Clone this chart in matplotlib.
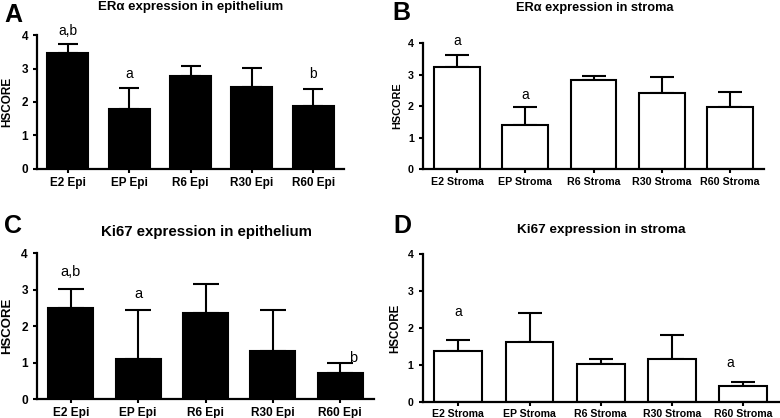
import matplotlib
matplotlib.use("Agg")
import matplotlib.pyplot as plt

plt.rcParams['font.family'] = ['Liberation Sans', 'DejaVu Sans']

W, H = 780, 418

# ---------------- data ----------------
epi_labels = ["E2 Epi", "EP Epi", "R6 Epi", "R30 Epi", "R60 Epi"]
str_labels = ["E2 Stroma", "EP Stroma", "R6 Stroma", "R30 Stroma", "R60 Stroma"]

era_epi = [3.45, 1.78, 2.77, 2.46, 1.89]
era_epi_err = [0.29, 0.65, 0.29, 0.56, 0.50]

era_str = [3.24, 1.39, 2.83, 2.43, 1.98]
era_str_err = [0.39, 0.57, 0.12, 0.50, 0.47]

ki_epi = [2.50, 1.10, 2.37, 1.33, 0.71]
ki_epi_err = [0.52, 1.35, 0.79, 1.11, 0.27]

ki_str = [1.38, 1.63, 1.02, 1.15, 0.42]
ki_str_err = [0.30, 0.78, 0.15, 0.65, 0.12]

yticks = [0, 1, 2, 3, 4]

# significance letters: (bar index, text, y value, x offset)
sig_a = [(0, "a,b", 4.12, 0.0), (1, "a", 2.84, 0.0), (4, "b", 2.83, 0.0)]
sig_b = [(0, "a", 4.07, 0.0), (1, "a", 2.36, 0.0)]
sig_c = [(0, "a,b", 3.50, 0.0), (1, "a", 2.87, 0.0), (4, "b", 1.12, 0.19)]
sig_d = [(0, "a", 2.44, 0.0), (4, "a", 1.04, -0.18)]

fig = plt.figure(figsize=(W / 100, H / 100), dpi=100)


def px_axes(l, r, t, b):
    return fig.add_axes([l / W, 1 - b / H, (r - l) / W, (b - t) / H])


def panel(box, labels, vals, errs, fill, sigs, title, title_xy, title_fs,
          letter, letter_xy, ylab_xy, ylab_fs, tick_fs, capsize, ann_fs):
    ax = px_axes(*box)
    x = list(range(len(labels)))
    ax.bar(x, vals, width=0.67, color=fill, edgecolor="black", linewidth=1.5,
           zorder=2)
    ax.errorbar(x, vals, yerr=[[0] * len(errs), errs], fmt="none",
                ecolor="black", elinewidth=1.5, capsize=capsize,
                capthick=1.5, zorder=1)
    ax.set_xlim(-0.5, 4.5)
    ax.set_ylim(0, 4)
    ax.set_yticks(yticks)
    ax.set_xticks(x)
    ax.set_xticklabels(labels, fontweight="bold", fontsize=tick_fs)
    ax.set_yticklabels([str(v) for v in yticks], fontweight="bold",
                       fontsize=tick_fs)
    for s in ["top", "right"]:
        ax.spines[s].set_visible(False)
    for s in ["left", "bottom"]:
        ax.spines[s].set_linewidth(1.6)
        ax.spines[s].set_clip_on(False)
    ax.tick_params(axis="both", direction="out", length=3, width=1.5,
                   pad=2.5)
    ax.tick_params(axis="y", pad=3.5)
    for i, t, yv, dx in sigs:
        ax.text(i + dx, yv, t, ha="center", va="center", fontsize=ann_fs,
                clip_on=False)
    fig.text(title_xy[0] / W, 1 - title_xy[1] / H, title, ha="center",
             va="baseline", fontsize=title_fs, fontweight="bold")
    fig.text(letter_xy[0] / W, 1 - letter_xy[1] / H, letter, ha="center",
             va="baseline", fontsize=18, fontweight="bold")
    fig.text(ylab_xy[0] / W, 1 - ylab_xy[1] / H, "HSCORE", ha="center",
             va="center", rotation=90, fontsize=ylab_fs, fontweight="bold")
    return ax


panel((37, 344, 35, 169), epi_labels, era_epi, era_epi_err, "black", sig_a,
      "ERα expression in epithelium", (191, 10), 9.5, "A", (13, 22),
      (7, 102), 8.5, 8.5, 7.5, 10)
panel((423, 764, 43.3, 169), str_labels, era_str, era_str_err, "white", sig_b,
      "ERα expression in stroma", (594.5, 10.7), 9.2, "B", (401.5, 20),
      (397, 106), 7.8, 7.7, 8.6, 10)
panel((37, 374, 253.3, 399), epi_labels, ki_epi, ki_epi_err, "black", sig_c,
      "Ki67 expression in epithelium", (206, 236.3), 10.8, "C", (13, 233),
      (7, 326), 9.5, 8.6, 9.6, 10.5)
panel((422.6, 779, 254.3, 401.7), str_labels, ki_str, ki_str_err, "white",
      sig_d, "Ki67 expression in stroma", (601.5, 233), 9.7, "D",
      (402.5, 233), (395, 328), 8.3, 7.6, 8.7, 10)

fig.savefig("out.png", dpi=100)
